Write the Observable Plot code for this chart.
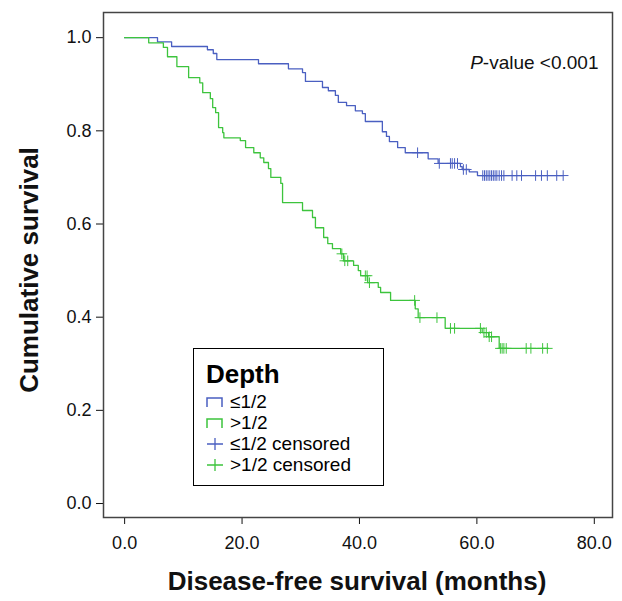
<!DOCTYPE html>
<html><head><meta charset="utf-8">
<script src="https://cdn.jsdelivr.net/npm/d3@7"></script>
<script src="https://cdn.jsdelivr.net/npm/@observablehq/plot@0.6"></script>
<style>
body{margin:0;background:#fff;font-family:"Liberation Sans",Arial,sans-serif}
#wrap{position:relative;width:622px;height:601px}
#legend{position:absolute;left:193px;top:348px;width:191px;height:138px;border:1.5px solid #000;background:#fff;font-size:19px;box-sizing:border-box}
#legend .t{font-weight:bold;font-size:26px;margin:10px 0 2px 12px;line-height:30px}
#legend .r{display:flex;align-items:center;height:21px;margin-left:12px}
#legend svg{margin-right:6px}
</style></head><body>
<div id="wrap"><div id="chart"></div>
<div id="legend">
<div class="t">Depth</div>
<div class="r"><svg width="18" height="14"><path d="M1,12V3H16V12" fill="none" stroke="#4a5fc1" stroke-width="1.5"/></svg>≤1/2</div>
<div class="r"><svg width="18" height="14"><path d="M1,12V3H16V12" fill="none" stroke="#3dc43d" stroke-width="1.5"/></svg>&gt;1/2</div>
<div class="r"><svg width="18" height="14"><path d="M1,7H17M9,1V13" stroke="#4a5fc1" stroke-width="1.3"/></svg>≤1/2 censored</div>
<div class="r"><svg width="18" height="14"><path d="M1,7H17M9,1V13" stroke="#3dc43d" stroke-width="1.3"/></svg>&gt;1/2 censored</div>
</div></div>
<script>
// step events: month, survival after the drop
const blueTimes = [0,5.6,8.0,14.1,15.1,15.7,22.8,27.9,30.3,30.8,33.7,34.7,35.9,36.4,37.8,39.3,40.5,41.0,43.9,44.6,45.1,46.5,47.8,51.7,53.4,57.2,57.5,58.7,60.1,74.7];
const blueSurv  = [1,0.991,0.981,0.974,0.966,0.953,0.944,0.933,0.925,0.906,0.893,0.886,0.876,0.861,0.854,0.843,0.837,0.820,0.798,0.788,0.777,0.764,0.753,0.740,0.730,0.723,0.717,0.712,0.704,0.704];
const blueCens  = [49.9,53.6,55.5,55.8,56.2,56.7,57.7,58.2,61,61.3,61.6,61.9,62.2,62.5,62.8,63.1,63.4,63.8,64.2,64.6,66,66.8,67.6,70,71,72,73.6,74.7];
const greenTimes = [0,4.1,6.6,7.3,8.9,10.9,12.8,13.3,14.6,15.0,15.5,16.0,16.7,16.9,19.7,20.6,22.0,23.1,23.7,24.5,24.9,26.6,26.9,30.3,32.0,32.5,33.9,34.6,35.4,36.8,37.3,39.0,39.8,40.2,41.4,43.2,43.6,45.3,49.5,50.0,54.6,60.9,62.0,63.8,72.2];
const greenSurv  = [1,0.989,0.979,0.959,0.938,0.914,0.903,0.882,0.869,0.850,0.839,0.807,0.796,0.785,0.779,0.764,0.753,0.742,0.732,0.719,0.700,0.687,0.646,0.629,0.614,0.592,0.571,0.558,0.547,0.536,0.521,0.511,0.500,0.489,0.474,0.464,0.453,0.436,0.418,0.399,0.376,0.367,0.358,0.333,0.333];
const greenCens  = [37.0,37.5,38.0,41.0,41.3,41.7,49.4,50.3,53.2,55.5,56.2,60.6,61.2,61.6,62.1,62.5,64.0,64.3,64.6,65.0,68.4,69.2,71.2,72.0];
const xTicks = [0,20,40,60,80];
const yTicks = [0,0.2,0.4,0.6,0.8,1.0];

const blue = "#4a5fc1", green = "#3dc43d";
const pts = (t, s) => t.map((d, i) => ({t: d, s: s[i]}));
const survAt = (t, s, x) => { let v = s[0]; t.forEach((d, i) => { if (d <= x) v = s[i]; }); return v; };
const cens = (c, t, s) => c.map(x => ({t: x, s: survAt(t, s, x)}));

const chart = Plot.plot({
  width: 622, height: 601,
  marginLeft: 103, marginRight: 10, marginTop: 12, marginBottom: 84,
  style: {fontFamily: "Liberation Sans, Arial, sans-serif", fontSize: "18px", color: "#111"},
  x: {domain: [-3.6, 83.1], ticks: xTicks, tickFormat: d3.format(".1f"), label: null, tickSize: 7, tickPadding: 12},
  y: {domain: [-0.03, 1.054], ticks: yTicks, tickFormat: d3.format(".1f"), label: null, tickSize: 7, tickPadding: 5},
  marks: [
    Plot.frame({stroke: "#444", strokeWidth: 1.5}),
    Plot.line(pts(blueTimes, blueSurv), {x: "t", y: "s", curve: "step-after", stroke: blue, strokeWidth: 1.3}),
    Plot.line(pts(greenTimes, greenSurv), {x: "t", y: "s", curve: "step-after", stroke: green, strokeWidth: 1.3}),
    Plot.dot(cens(blueCens, blueTimes, blueSurv), {x: "t", y: "s", symbol: "plus", r: 3.5, stroke: blue, strokeWidth: 1}),
    Plot.dot(cens(greenCens, greenTimes, greenSurv), {x: "t", y: "s", symbol: "plus", r: 3.5, stroke: green, strokeWidth: 1}),
    Plot.text([0], {frameAnchor: "top-right", dx: -14, dy: 43, text: () => "P-value <0.001", fontSize: 19})
  ]
});
const svg = d3.select(chart);
svg.append("text").attr("x", 357).attr("y", 590).attr("text-anchor", "middle")
  .attr("font-size", 26).attr("font-weight", "bold").text("Disease-free survival (months)");
svg.append("text").attr("transform", "translate(38,270) rotate(-90)").attr("text-anchor", "middle")
  .attr("font-size", 26).attr("font-weight", "bold").text("Cumulative survival");
// italic P
svg.selectAll("text").filter(function(){ return this.textContent === "P-value <0.001"; })
  .each(function(){ const t = d3.select(this); t.text(null); t.append("tspan").attr("font-style","italic").text("P"); t.append("tspan").text("-value <0.001"); });
document.getElementById("chart").appendChild(chart);
</script></body></html>
